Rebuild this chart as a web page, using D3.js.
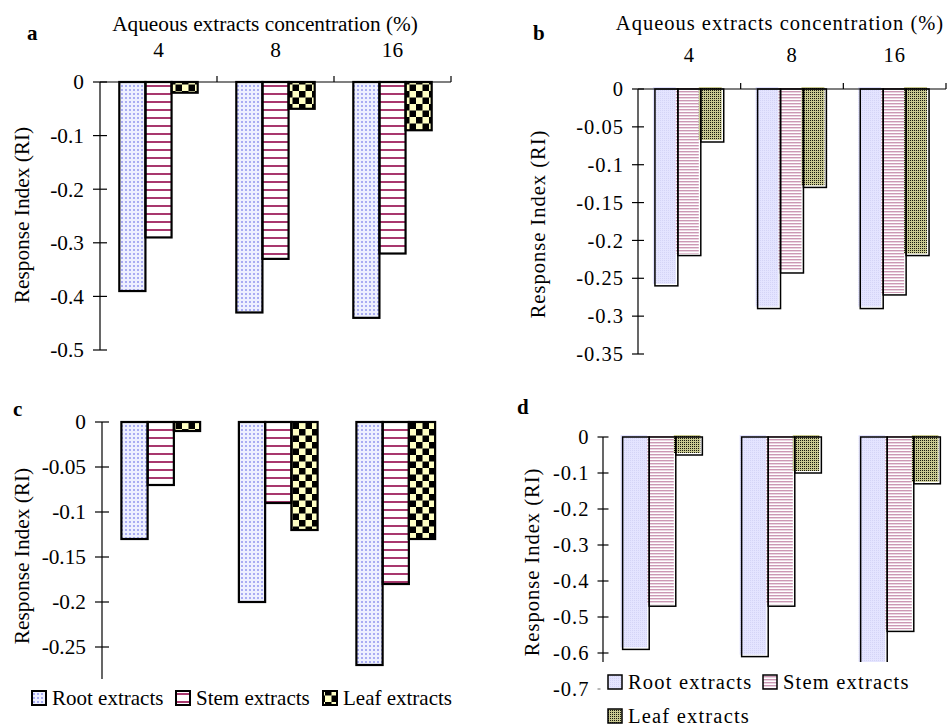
<!DOCTYPE html>
<html>
<head>
<meta charset="utf-8">
<script src="https://cdn.jsdelivr.net/npm/d3@7"></script>
<style>
  body { margin: 0; background: #ffffff; }
</style>
</head>
<body>
<div id="chart"></div>
<script>
const concentrations = ["4", "8", "16"];
const seriesNames = ["Root extracts", "Stem extracts", "Leaf extracts"];

// response index values
const rootA = [-0.39, -0.43, -0.44];
const stemA = [-0.29, -0.33, -0.32];
const leafA = [-0.02, -0.05, -0.09];

const rootB = [-0.26, -0.29, -0.29];
const stemB = [-0.22, -0.243, -0.272];
const leafB = [-0.07, -0.13, -0.22];

const rootC = [-0.13, -0.20, -0.27];
const stemC = [-0.07, -0.09, -0.18];
const leafC = [-0.01, -0.12, -0.13];

const rootD = [-0.59, -0.61, -0.65];
const stemD = [-0.47, -0.47, -0.54];
const leafD = [-0.05, -0.10, -0.13];

const ticksA = [0, -0.1, -0.2, -0.3, -0.4, -0.5];
const ticksB = [0, -0.05, -0.1, -0.15, -0.2, -0.25, -0.3, -0.35];
const ticksC = [0, -0.05, -0.1, -0.15, -0.2, -0.25];
const ticksD = [0, -0.1, -0.2, -0.3, -0.4, -0.5, -0.6, -0.7];

const W = 947, H = 726;
const FONT = "Liberation Serif";

const svg = d3.select("#chart")
  .append("svg")
  .attr("width", W)
  .attr("height", H)
  .style("display", "block");

const defs = svg.append("defs");

// coarse patterns (panels a, c)
const pRoot = defs.append("pattern").attr("id", "rootCoarse")
  .attr("patternUnits", "userSpaceOnUse").attr("width", 4).attr("height", 4);
pRoot.append("rect").attr("width", 4).attr("height", 4).attr("fill", "#eef0ff");
pRoot.append("rect").attr("x", 1).attr("y", 1).attr("width", 2).attr("height", 2).attr("fill", "#a9acf2");

const pStem = defs.append("pattern").attr("id", "stemCoarse")
  .attr("patternUnits", "userSpaceOnUse").attr("width", 8).attr("height", 8);
pStem.append("rect").attr("width", 8).attr("height", 8).attr("fill", "#ffffff");
pStem.append("rect").attr("y", 5).attr("width", 8).attr("height", 2).attr("fill", "#a8386e");

const pLeaf = defs.append("pattern").attr("id", "leafCoarse")
  .attr("patternUnits", "userSpaceOnUse").attr("width", 13).attr("height", 13);
pLeaf.append("rect").attr("width", 13).attr("height", 13).attr("fill", "#ffffc4");
pLeaf.append("rect").attr("width", 6.5).attr("height", 6.5).attr("fill", "#000000");
pLeaf.append("rect").attr("x", 6.5).attr("y", 6.5).attr("width", 6.5).attr("height", 6.5).attr("fill", "#000000");

// fine patterns (panels b, d)
const fRoot = defs.append("pattern").attr("id", "rootFine")
  .attr("patternUnits", "userSpaceOnUse").attr("width", 2).attr("height", 2);
fRoot.append("rect").attr("width", 2).attr("height", 2).attr("fill", "#e4e4ff");
fRoot.append("rect").attr("width", 1).attr("height", 1).attr("fill", "#d4d4f6");

const fStem = defs.append("pattern").attr("id", "stemFine")
  .attr("patternUnits", "userSpaceOnUse").attr("width", 3).attr("height", 3);
fStem.append("rect").attr("width", 3).attr("height", 3).attr("fill", "#ffffff");
fStem.append("rect").attr("y", 1).attr("width", 3).attr("height", 1.4).attr("fill", "#cc98b4");

const fLeaf = defs.append("pattern").attr("id", "leafFine")
  .attr("patternUnits", "userSpaceOnUse").attr("width", 2).attr("height", 2);
fLeaf.append("rect").attr("width", 2).attr("height", 2).attr("fill", "#c8c890");
fLeaf.append("rect").attr("width", 1).attr("height", 1).attr("fill", "#1a1a10");

const panels = [
  { key: "a", values: [rootA, stemA, leafA], ticks: ticksA, fmt: d3.format(".1f"),
    x0: 100, x1: 451, yTopPx: 82, yBotPx: 350, yMin: -0.5, axisEnd: -0.5,
    fills: ["rootCoarse", "stemCoarse", "leafCoarse"], stroke: 2.2, shift: 0, spacing: 0,
    topAxis: true, title: { x: 265, y: 31 }, catY: 57, label: { x: 27, y: 40 },
    yLabel: { x: 22, y: 215 }, tickLen: 7, fs: 21.3 },
  { key: "b", values: [rootB, stemB, leafB], ticks: ticksB, fmt: d3.format(".2~f"),
    x0: 638, x1: 946, yTopPx: 89, yBotPx: 354, yMin: -0.35, axisEnd: -0.35,
    fills: ["rootFine", "stemFine", "leafFine"], stroke: 1.5, shift: 2, spacing: 1,
    topAxis: true, title: { x: 780, y: 30 }, catY: 62, label: { x: 533, y: 40 },
    yLabel: { x: 538, y: 224 }, tickLen: 6, fs: 20.5 },
  { key: "c", values: [rootC, stemC, leafC], ticks: ticksC, fmt: d3.format(".2~f"),
    x0: 102, x1: 454.5, yTopPx: 422, yBotPx: 647, yMin: -0.25, axisEnd: -0.2856,
    fills: ["rootCoarse", "stemCoarse", "leafCoarse"], stroke: 2.2, shift: 0, spacing: 0,
    topAxis: false, label: { x: 13, y: 416 },
    yLabel: { x: 22, y: 556 }, tickLen: 7, fs: 21.3 },
  { key: "d", values: [rootD, stemD, leafD], ticks: ticksD, fmt: d3.format(".1f"),
    x0: 603, x1: 960, yTopPx: 437, yBotPx: 653, yMin: -0.6, axisEnd: -0.625,
    fills: ["rootFine", "stemFine", "leafFine"], stroke: 1.5, shift: 2, spacing: 1,
    topAxis: false, label: { x: 517, y: 414 },
    yLabel: { x: 532, y: 562 }, tickLen: 5.5, clip: true, fs: 20.5 }
];

panels.forEach((p) => {
  const g = svg.append("g").attr("class", `panel-${p.key}`);

  const y = d3.scaleLinear().domain([p.yMin, 0]).range([p.yBotPx, p.yTopPx]);
  const x = d3.scaleBand().domain(concentrations).range([p.x0, p.x1]);
  const groupW = x.bandwidth() * 0.67;
  const xs = d3.scaleBand().domain(seriesNames)
    .range([(x.bandwidth() - groupW) / 2, (x.bandwidth() + groupW) / 2]);

  // panel letter
  g.append("text")
    .attr("x", p.label.x)
    .attr("y", p.label.y)
    .attr("font-family", FONT)
    .attr("font-size", 21)
    .attr("font-weight", 700)
    .text(p.key);

  // bars
  let barLayer = g.append("g");
  if (p.clip) {
    defs.append("clipPath").attr("id", `clip-${p.key}`)
      .append("rect")
      .attr("x", p.x0 - 10).attr("y", p.yTopPx - 10)
      .attr("width", W - p.x0 + 10)
      .attr("height", y(p.axisEnd) - p.yTopPx + 10);
    barLayer.attr("clip-path", `url(#clip-${p.key})`);
  }

  const barData = [];
  concentrations.forEach((c, ci) => {
    seriesNames.forEach((s, si) => {
      barData.push({ cat: c, series: s, si, value: p.values[si][ci] });
    });
  });

  barLayer.selectAll("rect.fill")
    .data(barData)
    .enter()
    .append("rect")
    .attr("class", "fill")
    .attr("x", (d) => x(d.cat) + xs(d.series) - p.shift)
    .attr("y", y(0) - p.shift)
    .attr("width", xs.bandwidth())
    .attr("height", (d) => y(d.value) - y(0))
    .attr("fill", (d) => `url(#${p.fills[d.si]})`);

  barLayer.selectAll("rect.edge")
    .data(barData)
    .enter()
    .append("rect")
    .attr("class", "edge")
    .attr("x", (d) => x(d.cat) + xs(d.series))
    .attr("y", y(0))
    .attr("width", xs.bandwidth())
    .attr("height", (d) => y(d.value) - y(0))
    .attr("fill", "none")
    .attr("stroke", "#000")
    .attr("stroke-width", p.stroke);

  // y axis
  const axisG = g.append("g");
  axisG.append("line")
    .attr("x1", p.x0).attr("x2", p.x0)
    .attr("y1", y(0)).attr("y2", y(p.axisEnd))
    .attr("stroke", "#000").attr("stroke-width", 1.2);

  p.ticks.forEach((t) => {
    const inside = t >= p.axisEnd;
    axisG.append("line")
      .attr("x1", p.x0 - p.tickLen)
      .attr("x2", inside ? p.x0 + p.tickLen : p.x0 - p.tickLen + 3)
      .attr("y1", y(t)).attr("y2", y(t))
      .attr("stroke", inside ? "#000" : "#888").attr("stroke-width", 1.2);
    axisG.append("text")
      .attr("x", p.x0 - p.tickLen - 9 + p.spacing)
      .attr("y", y(t))
      .attr("dy", "0.35em")
      .attr("text-anchor", "end")
      .attr("font-family", FONT)
      .attr("font-size", p.fs)
      .attr("letter-spacing", p.spacing)
      .text(t === 0 ? "0" : p.fmt(t).replace("−", "-"));
  });

  // y title
  g.append("text")
    .attr("transform", `translate(${p.yLabel.x},${p.yLabel.y}) rotate(-90)`)
    .attr("text-anchor", "middle")
    .attr("dy", "0.35em")
    .attr("font-family", FONT)
    .attr("font-size", p.fs)
    .attr("letter-spacing", p.spacing)
    .text("Response Index (RI)");

  // top category axis for a and b
  if (p.topAxis) {
    g.append("line")
      .attr("x1", p.x0).attr("x2", p.x1)
      .attr("y1", y(0)).attr("y2", y(0))
      .attr("stroke", "#000").attr("stroke-width", 1.2);
    concentrations.forEach((c) => {
      const edge = x(c) + x.bandwidth();
      g.append("line")
        .attr("x1", edge).attr("x2", edge)
        .attr("y1", y(0)).attr("y2", y(0) - 6)
        .attr("stroke", "#000").attr("stroke-width", 1.2);
      g.append("text")
        .attr("x", x(c) + x.bandwidth() / 2)
        .attr("y", p.catY)
        .attr("text-anchor", "middle")
        .attr("font-family", FONT)
        .attr("font-size", p.fs)
        .attr("letter-spacing", p.spacing)
        .text(c);
    });
    g.append("text")
      .attr("x", p.title.x)
      .attr("y", p.title.y)
      .attr("text-anchor", "middle")
      .attr("font-family", FONT)
      .attr("font-size", p.fs)
      .attr("letter-spacing", p.spacing)
      .text("Aqueous extracts concentration (%)");
  }
});

// legends
function legendItem(xPos, yPos, fillId, name, spacing, strokeW, fs) {
  svg.append("rect")
    .attr("x", xPos).attr("y", yPos - 7)
    .attr("width", 14).attr("height", 14)
    .attr("fill", `url(#${fillId})`)
    .attr("stroke", "#000").attr("stroke-width", strokeW);
  svg.append("text")
    .attr("x", xPos + 20).attr("y", yPos)
    .attr("dy", "0.35em")
    .attr("font-family", FONT)
    .attr("font-size", fs)
    .attr("letter-spacing", spacing)
    .text(name);
}

const legendCX = [32, 176, 323];
const legendCFills = ["rootCoarse", "stemCoarse", "leafCoarse"];
seriesNames.forEach((s, i) => legendItem(legendCX[i], 698, legendCFills[i], s, 0, 2, 21));

const legendDPos = [[608, 682], [763, 682], [608, 716]];
const legendDFills = ["rootFine", "stemFine", "leafFine"];
seriesNames.forEach((s, i) => legendItem(legendDPos[i][0], legendDPos[i][1], legendDFills[i], s, 1.2, 1.5, 20.5));
</script>
</body>
</html>
